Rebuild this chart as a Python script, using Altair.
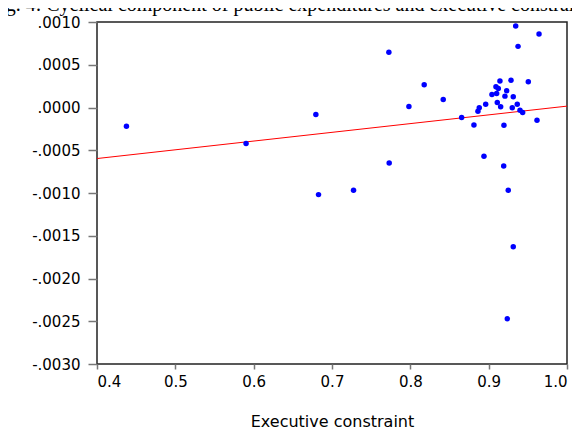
import altair as alt
import pandas as pd

# Executive constraint (x) and cyclical component of public expenditures (y)
exec_constraint = [0.9345, 0.9643, 0.9375, 0.7726, 0.8177, 0.842, 0.7982,
                   0.9144, 0.9285, 0.9506, 0.9093, 0.9123, 0.923, 0.9042,
                   0.9102, 0.9208, 0.9314, 0.8962, 0.911, 0.9153, 0.9365,
                   0.9301, 0.888, 0.8863, 0.94, 0.9434, 0.8655, 0.8812,
                   0.9195, 0.9617, 0.773, 0.894, 0.9192, 0.925, 0.9314,
                   0.9238, 0.4376, 0.5903, 0.6794, 0.6828, 0.7275]
cyclical = [0.000953, 0.000859, 0.000715, 0.000645, 0.000265, 0.000094, 0.000012,
            0.000309, 0.00032, 0.0003, 0.000242, 0.000223, 0.000195, 0.000153,
            0.000165, 0.000133, 0.000125, 0.000039, 0.000058, 0.00001, 0.000039,
            -0.000004, -0.000004, -0.000043, -0.000031, -0.000058, -0.000117, -0.000204,
            -0.000207, -0.000148, -0.000649, -0.00057, -0.000684, -0.000969, -0.001629,
            -0.002472, -0.000219, -0.000421, -0.000082, -0.001019, -0.000969]

# fitted line end points
fit_x = [0.4, 1.0]
fit_y = [-0.000597, 0.000016]

x_ticks = [0.4, 0.5, 0.6, 0.7, 0.8, 0.9, 1.0]
y_ticks = [-0.003, -0.0025, -0.002, -0.0015, -0.001, -0.0005, 0.0, 0.0005, 0.001]

title_text = "Fig. 4: Cyclical component of public expenditures and executive constraint"

pts = pd.DataFrame({"x": exec_constraint, "y": cyclical})
fit = pd.DataFrame({"x": fit_x, "y": fit_y})
ttl = pd.DataFrame({"t": [title_text]})

xs = alt.Scale(domain=[0.4, 1.0], nice=False, zero=False)
ys = alt.Scale(domain=[-0.003, 0.001], nice=False, zero=False)

xax = alt.Axis(values=x_ticks, format=".1f", tickSize=5, labelPadding=5,
               title="Executive constraint", titleFont="DejaVu Sans", titleFontSize=16,
               titleFontWeight="normal", titleColor="black", titleY=62,
               titleBaseline="alphabetic")
yax = alt.Axis(values=y_ticks, tickSize=9, labelPadding=8, title=None,
               labelExpr="(datum.value < 0 ? '-' : '') + replace(format(abs(datum.value), '.4f'), '0.', '.')")

points = alt.Chart(pts).mark_circle(size=30, color="#0000ff", opacity=1).encode(
    x=alt.X("x:Q", scale=xs, axis=xax),
    y=alt.Y("y:Q", scale=ys, axis=yax),
)

line = alt.Chart(fit).mark_line(color="#ff0000", strokeWidth=1).encode(
    x=alt.X("x:Q", scale=xs),
    y=alt.Y("y:Q", scale=ys),
)

title = alt.Chart(ttl).mark_text(font="Liberation Serif", fontSize=20, align="left",
                                 baseline="alphabetic", color="black").encode(
    text="t:N", x=alt.value(-108), y=alt.value(-11)
)

chart = alt.layer(line, points, title).properties(
    width=470, height=342,
    autosize=alt.AutoSizeParams(type="none"),
    padding={"left": 89, "top": 14, "right": 5, "bottom": 65},
).configure_view(
    stroke="#222222", strokeWidth=1.5
).configure_axis(
    grid=False, domain=False, tickColor="#777777", tickWidth=1.5,
    labelFont="DejaVu Sans", labelFontSize=15, labelColor="black"
)

chart.save("out.html", embed_options={"renderer": "svg", "actions": False})
